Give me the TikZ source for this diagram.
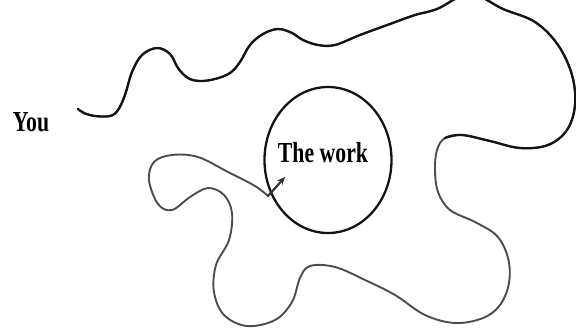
\documentclass[tikz,border=0pt]{standalone}
\usepackage{fontspec}
\setmainfont{Liberation Serif}
\usetikzlibrary{arrows.meta,shapes.geometric}
\begin{document}
\begin{tikzpicture}[x=1pt,y=-1pt,
  lbl/.style={font=\bfseries\fontsize{29}{30}\selectfont, inner sep=0pt, anchor=base},
  ink/.style={line width=2.3pt, line cap=round, line join=round, black!92},
  pencil/.style={line width=1.9pt, line cap=round, line join=round, black!70},
]
\useasboundingbox (0,0) rectangle (576,330);

% labels
\node[lbl] (you) at (31,131) {\scalebox{0.75}[1]{You}};
\node[draw, ellipse, ink, minimum width=127pt, minimum height=146pt, inner sep=0pt] (circ) at (328,160) {};
\node[lbl] (work) at (323,162) {\scalebox{0.75}[1]{The work}};

\coordinate (start) at (78,109);
\coordinate (turn) at (268,196);
\coordinate (tip) at (285,177);

% the whole wandering line (pencil)
\draw[pencil] plot[smooth, tension=0.6] coordinates {
 (start) (84,113) (95,116) (110,116) (118,110) (125,95) (132,72) (142,55) (157,48)
 (170,54) (178,68) (188,78) (200,81) (215,79) (230,73) (240,62) (250,45) (263,34)
 (278,29) (292,33) (303,40) (318,45) (335,45) (360,35) (390,24) (415,15) (437,9)
 (470,-6) (503,9) (535,22) (558,45) (572,75) (575,105) (567,130) (548,145)
 (520,148) (490,141) (462,135) (445,138) (437,150) (435,170) (438,192) (450,210)
 (475,222) (497,236) (508,258) (509,283) (500,305) (483,318) (455,323) (425,315)
 (395,295) (365,280) (335,267) (310,266) (300,278) (292,302) (275,320) (247,326)
 (224,315) (214,292) (216,265) (229,240) (232,213) (224,195) (208,188) (190,197)
 (172,210) (158,204) (149,180) (154,162) (172,155) (198,157) (228,172) (255,186)
 (turn)};

% darker upper part
\draw[ink] plot[smooth, tension=0.6] coordinates {
 (start) (84,113) (95,116) (110,116) (118,110) (125,95) (132,72) (142,55) (157,48)
 (170,54) (178,68) (188,78) (200,81) (215,79) (230,73) (240,62) (250,45) (263,34)
 (278,29) (292,33) (303,40) (318,45) (335,45) (360,35) (390,24) (415,15) (437,9)
 (470,-6) (503,9) (535,22) (558,45) (572,75) (575,105) (567,130) (548,145)
 (520,148) (490,141) (462,135) (445,138)};

% the arrow into the work
\draw[pencil, line width=2.2pt, black!80, -{Stealth[length=8pt,width=7pt]}] (turn) -- (tip);
\end{tikzpicture}
\end{document}
